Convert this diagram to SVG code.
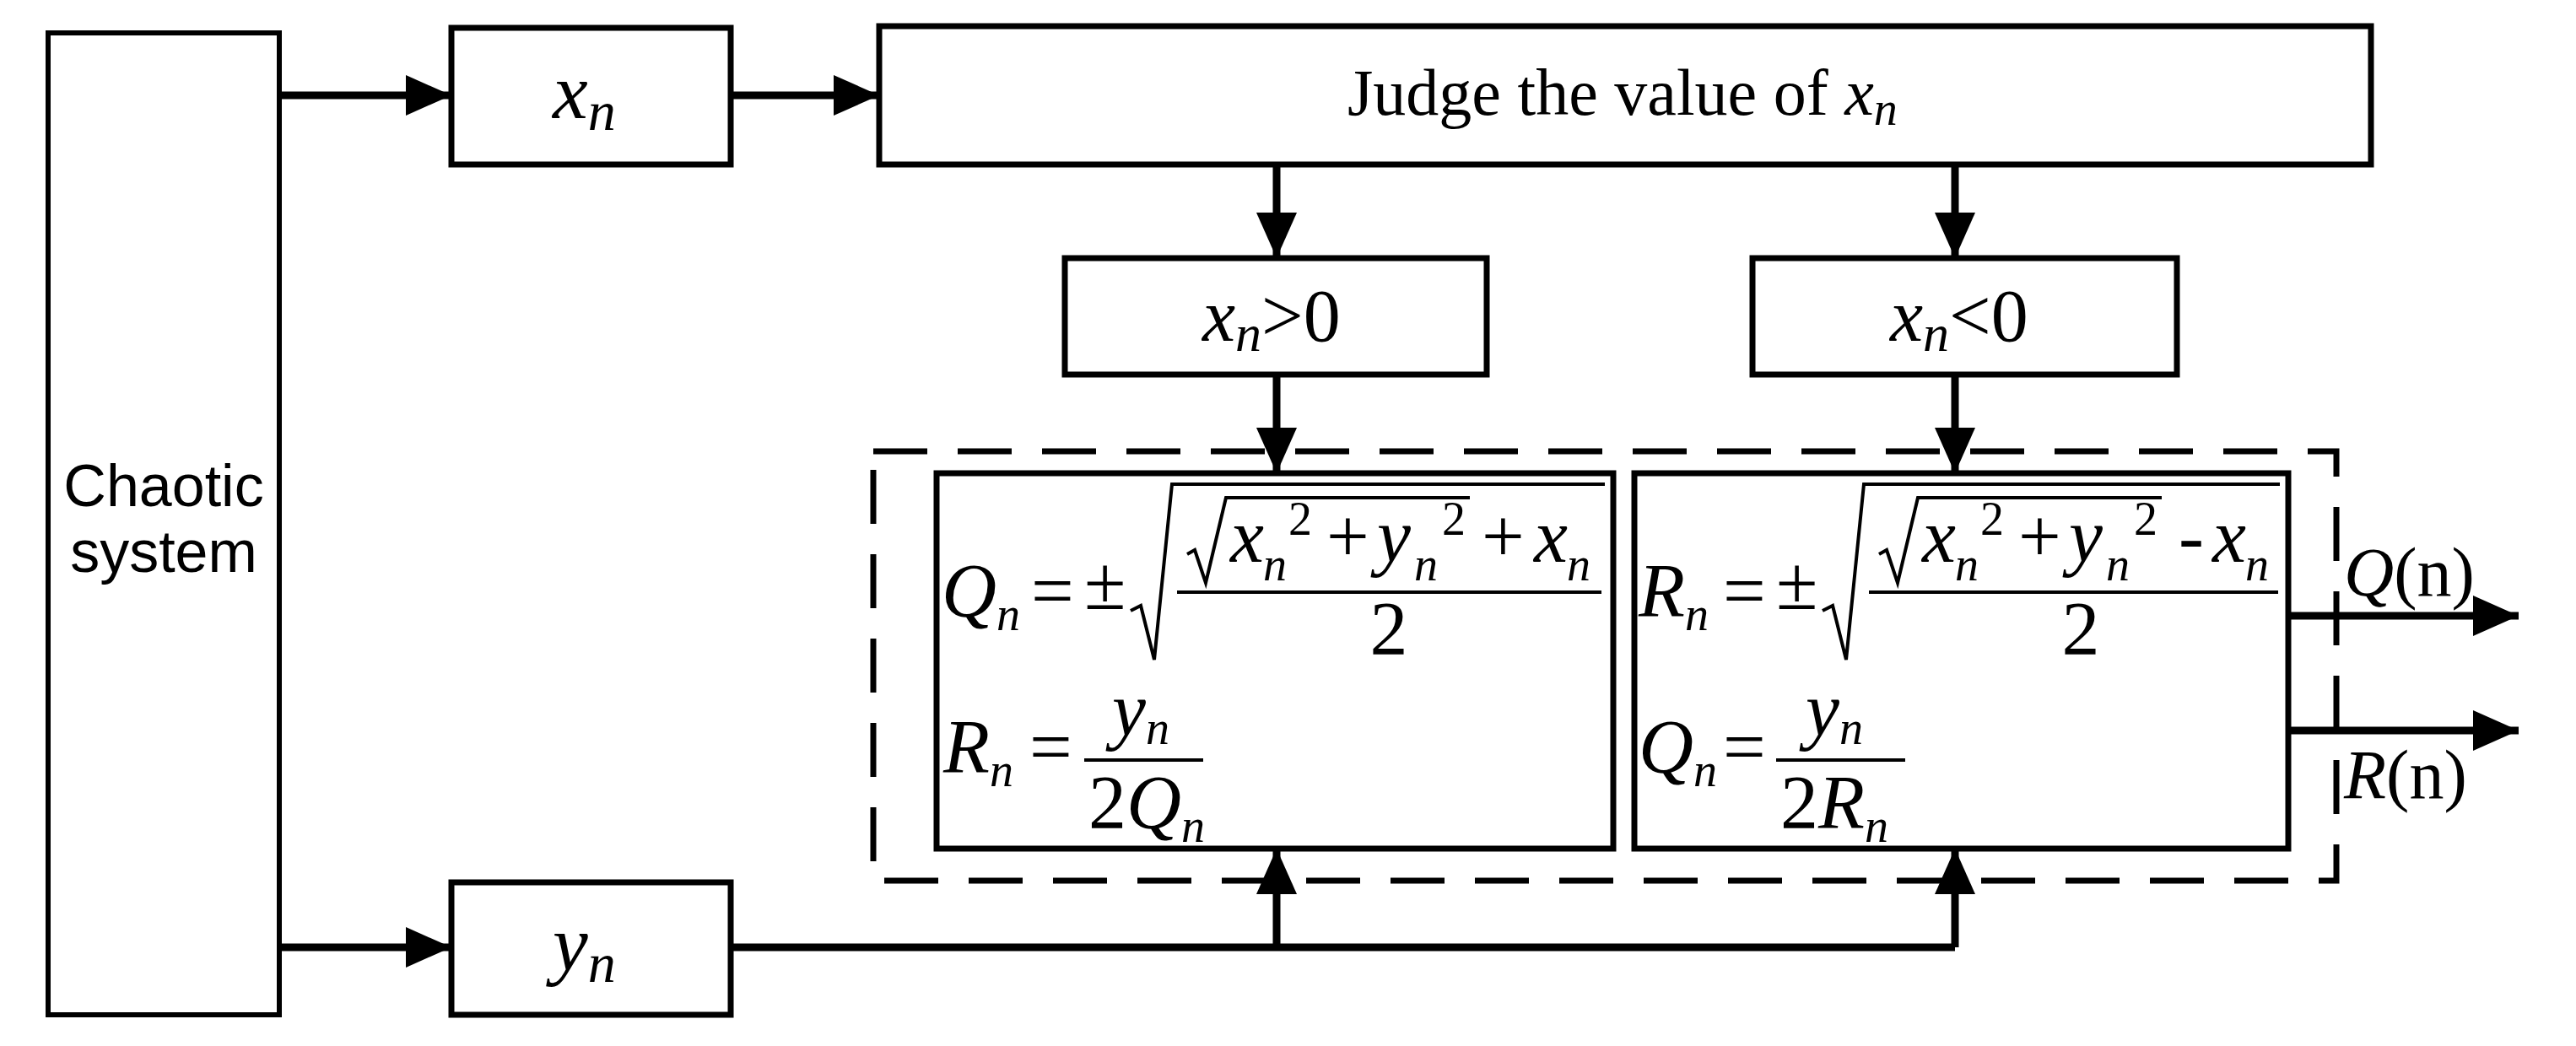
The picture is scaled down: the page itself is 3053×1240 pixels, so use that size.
<svg xmlns="http://www.w3.org/2000/svg" width="3053" height="1240" viewBox="0 0 3053 1240">
<style>
.box{fill:#fff;stroke:#000;stroke-width:7}
.ln{fill:none;stroke:#000;stroke-width:9}
.t{font-family:"Liberation Serif",serif;fill:#000}
.i{font-style:italic}
.s{font-size:56px}
.m{font-size:90px}
</style>
<defs>
<marker id="ah" markerUnits="userSpaceOnUse" markerWidth="54" markerHeight="48" refX="54" refY="24" orient="auto">
<path d="M0,0 L54,24 L0,48 z" fill="#000"/>
</marker>
</defs>
<g id="connectors">
<line class="ln" x1="331" y1="113" x2="535" y2="113" marker-end="url(#ah)"/>
<line class="ln" x1="866" y1="113" x2="1042" y2="113" marker-end="url(#ah)"/>
<line class="ln" x1="331" y1="1123" x2="535" y2="1123" marker-end="url(#ah)"/>
<line class="ln" x1="1513" y1="195" x2="1513" y2="306" marker-end="url(#ah)"/>
<line class="ln" x1="2317" y1="195" x2="2317" y2="306" marker-end="url(#ah)"/>
<line class="ln" x1="1513" y1="444" x2="1513" y2="561" marker-end="url(#ah)"/>
<line class="ln" x1="2317" y1="444" x2="2317" y2="561" marker-end="url(#ah)"/>
<polyline class="ln" points="866,1123 2317,1123"/>
<line class="ln" x1="1513" y1="1123" x2="1513" y2="1006" marker-end="url(#ah)"/>
<line class="ln" x1="2317" y1="1123" x2="2317" y2="1006" marker-end="url(#ah)"/>
<line class="ln" x1="2712" y1="730" x2="2985" y2="730" marker-end="url(#ah)"/>
<line class="ln" x1="2712" y1="866" x2="2985" y2="866" marker-end="url(#ah)"/>
</g>
<g id="chaotic">
<rect class="box" x="57" y="39" width="274" height="1164" style="stroke-width:6"/>
<text class="t" x="194" y="600" font-size="70" text-anchor="middle" style="font-family:'Liberation Sans',sans-serif">Chaotic</text>
<text class="t" x="194" y="678" font-size="70" text-anchor="middle" style="font-family:'Liberation Sans',sans-serif">system</text>
</g>
<g id="xn">
<rect class="box" x="535" y="33" width="331" height="162"/>
<text class="t i" x="655" y="140" font-size="94">x<tspan font-size="66" dy="14">n</tspan></text>
</g>
<g id="judge">
<rect class="box" x="1042" y="31" width="1768" height="164"/>
<text class="t" x="1597" y="136" font-size="78">Judge the value of <tspan class="i">x</tspan><tspan class="i" font-size="56" dy="12">n</tspan></text>
</g>
<g id="xpos">
<rect class="box" x="1262" y="306" width="500" height="138"/>
<text class="t" x="1425" y="404" font-size="88"><tspan class="i">x</tspan><tspan class="i" font-size="62" dy="12">n</tspan><tspan dy="-12">&gt;0</tspan></text>
</g>
<g id="xneg">
<rect class="box" x="2077" y="306" width="503" height="138"/>
<text class="t" x="2240" y="404" font-size="88"><tspan class="i">x</tspan><tspan class="i" font-size="62" dy="12">n</tspan><tspan dy="-12">&lt;0</tspan></text>
</g>
<g id="yn">
<rect class="box" x="535" y="1046" width="331" height="157"/>
<text class="t i" x="655" y="1150" font-size="94">y<tspan font-size="66" dy="14">n</tspan></text>
</g>
<g id="dashed">
<rect x="1035" y="535" width="1734" height="509" fill="none" stroke="#000" stroke-width="7" stroke-dasharray="64 36"/>
</g>
<g id="boxQ">
<rect class="box" x="1110" y="561" width="802" height="445"/>
<text class="t i m" x="1116" y="731">Q<tspan class="s" dy="16">n</tspan></text>
<text class="t m" x="1222" y="731">=</text>
<text class="t m" x="1285" y="722">±</text>
<polyline points="1340,724 1352,718 1368,782 1389,574 1902,574" fill="none" stroke="#000" stroke-width="4"/>
<polyline points="1407,657 1416,652 1429,691 1453,590 1742,590" fill="none" stroke="#000" stroke-width="4"/>
<text class="t i m" x="1458" y="666">x</text><text class="t i s" x="1497" y="688">n</text><text class="t s" x="1527" y="634">2</text>
<text class="t m" x="1572" y="666">+</text>
<text class="t i m" x="1632" y="666">y</text><text class="t i s" x="1676" y="688">n</text><text class="t s" x="1709" y="634">2</text>
<text class="t m" x="1756" y="666">+</text>
<text class="t i m" x="1818" y="666">x</text><text class="t i s" x="1857" y="688">n</text>
<line x1="1395" y1="702" x2="1898" y2="702" stroke="#000" stroke-width="4"/>
<text class="t m" x="1646" y="776" text-anchor="middle">2</text>
<text class="t i m" x="1118" y="916">R<tspan class="s" dy="16">n</tspan></text>
<text class="t m" x="1220" y="916">=</text>
<text class="t i m" x="1318" y="872">y<tspan class="s" dy="10">n</tspan></text>
<line x1="1285" y1="901" x2="1426" y2="901" stroke="#000" stroke-width="4"/>
<text class="t m" x="1290" y="982">2<tspan class="i">Q</tspan><tspan class="i s" dy="16">n</tspan></text>
</g>
<g id="boxR">
<rect class="box" x="1937" y="561" width="775" height="445"/>
<text class="t i m" x="1942" y="731">R<tspan class="s" dy="16">n</tspan></text>
<text class="t m" x="2042" y="731">=</text>
<text class="t m" x="2105" y="722">±</text>
<polyline points="2160,724 2172,718 2188,782 2209,574 2702,574" fill="none" stroke="#000" stroke-width="4"/>
<polyline points="2227,657 2236,652 2249,691 2273,590 2562,590" fill="none" stroke="#000" stroke-width="4"/>
<text class="t i m" x="2278" y="666">x</text><text class="t i s" x="2317" y="688">n</text><text class="t s" x="2347" y="634">2</text>
<text class="t m" x="2392" y="666">+</text>
<text class="t i m" x="2452" y="666">y</text><text class="t i s" x="2496" y="688">n</text><text class="t s" x="2529" y="634">2</text>
<text class="t m" x="2582" y="666">-</text>
<text class="t i m" x="2622" y="666">x</text><text class="t i s" x="2661" y="688">n</text>
<line x1="2215" y1="702" x2="2700" y2="702" stroke="#000" stroke-width="4"/>
<text class="t m" x="2466" y="776" text-anchor="middle">2</text>
<text class="t i m" x="1942" y="916">Q<tspan class="s" dy="16">n</tspan></text>
<text class="t m" x="2042" y="916">=</text>
<text class="t i m" x="2140" y="872">y<tspan class="s" dy="10">n</tspan></text>
<line x1="2105" y1="901" x2="2258" y2="901" stroke="#000" stroke-width="4"/>
<text class="t m" x="2110" y="982">2<tspan class="i">R</tspan><tspan class="i s" dy="16">n</tspan></text>
</g>
<g id="outputs">
<text class="t" x="2778" y="706" font-size="82"><tspan class="i">Q</tspan>(n)</text>
<text class="t" x="2778" y="946" font-size="82"><tspan class="i">R</tspan>(n)</text>
</g>
</svg>
